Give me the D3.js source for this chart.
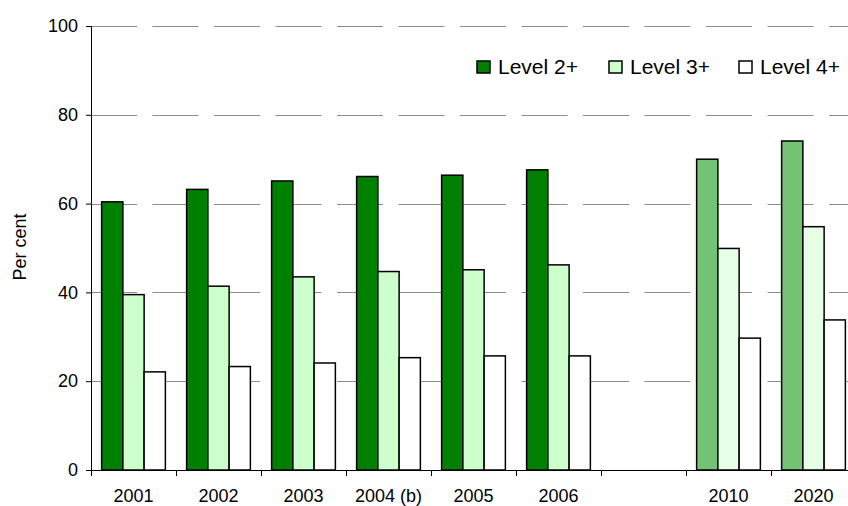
<!DOCTYPE html>
<html>
<head>
<meta charset="utf-8">
<script src="https://cdn.jsdelivr.net/npm/d3@7"></script>
<style>
  html, body { margin: 0; padding: 0; background: #fff; }
  svg { display: block; font-family: "Liberation Sans", Arial, sans-serif; }
</style>
</head>
<body>
<svg id="chart" width="848" height="506"></svg>
<script>
// ---- data ----
const categories = ["2001", "2002", "2003", "2004 (b)", "2005", "2006", "gap", "2010", "2020"];
const categoryLabels = ["2001", "2002", "2003", "2004 (b)", "2005", "2006", "", "2010", "2020"];
const projected = ["2010", "2020"];
const seriesNames = ["Level 2+", "Level 3+", "Level 4+"];
const level2 = [60.4, 63.2, 65.1, 66.1, 66.4, 67.6, null, 70.0, 74.1];
const level3 = [39.5, 41.4, 43.5, 44.7, 45.1, 46.2, null, 49.9, 54.8];
const level4 = [22.1, 23.3, 24.1, 25.3, 25.7, 25.7, null, 29.7, 33.8];
const yTicks = [0, 20, 40, 60, 80, 100];

const seriesValues = [level2, level3, level4];
const fills = ["#008000", "#ccffcc", "#ffffff"];
const projFills = ["#74c274", "#e6ffe6", "#ffffff"];

// ---- layout ----
const svg = d3.select("#chart");
const mLeft = 91, mRight = 856, mTop = 26, mBottom = 470;

const x = d3.scaleBand().domain(categories).range([mLeft, mRight]).paddingInner(0).paddingOuter(0);
const x1 = d3.scaleBand().domain(seriesNames).range([x.bandwidth() * 0.125, x.bandwidth() * 0.875]).padding(0);
const y = d3.scaleLinear().domain([0, 100]).range([mBottom, mTop]);

// gridlines (dashed)
svg.append("g").selectAll("line").data(yTicks.filter(d => d > 0)).join("line")
  .attr("x1", mLeft).attr("x2", 848)
  .attr("y1", d => Math.round(y(d)) + 0.5).attr("y2", d => Math.round(y(d)) + 0.5)
  .attr("stroke", "#8c8c8c").attr("stroke-width", 1)
  .attr("stroke-dasharray", "46,15.5");

// bars
const rows = categories.map((c, i) => ({ c, i }));
const groups = svg.append("g").selectAll("g").data(rows.filter(r => level2[r.i] !== null)).join("g")
  .attr("transform", r => `translate(${x(r.c)},0)`);
groups.selectAll("rect").data(r => seriesNames.map((s, k) => ({
    s, k, v: seriesValues[k][r.i], proj: projected.includes(r.c)
  }))).join("rect")
  .attr("x", d => x1(d.s))
  .attr("y", d => y(d.v))
  .attr("width", x1.bandwidth())
  .attr("height", d => y(0) - y(d.v))
  .attr("fill", d => d.proj ? projFills[d.k] : fills[d.k])
  .attr("stroke", "#000").attr("stroke-width", 1.5);

// y axis
const yAxis = d3.axisLeft(y).tickValues(yTicks).tickSize(5).tickPadding(8);
const yg = svg.append("g").attr("transform", `translate(${mLeft},0)`).call(yAxis);
yg.select(".domain").attr("stroke", "#000").attr("d", `M0.5,${mTop}V${mBottom}`);
yg.selectAll(".tick line").attr("stroke", "#000");
yg.selectAll(".tick text").attr("font-size", 18).attr("fill", "#000")
  .attr("font-family", "'Liberation Sans', Arial, sans-serif");

// x axis
const xg = svg.append("g").attr("transform", `translate(0,${mBottom})`);
xg.append("line").attr("x1", mLeft).attr("x2", 848).attr("y1", 0.5).attr("y2", 0.5).attr("stroke", "#000");
xg.selectAll("line.tk").data(categories).join("line").attr("class", "tk")
  .attr("x1", d => Math.round(x(d)) + 0.5).attr("x2", d => Math.round(x(d)) + 0.5)
  .attr("y1", 0).attr("y2", 6).attr("stroke", "#000");
xg.selectAll("text").data(categories).join("text")
  .attr("x", d => x(d) + x.bandwidth() / 2)
  .attr("y", 32)
  .attr("text-anchor", "middle")
  .attr("font-size", 18)
  .text((d, i) => categoryLabels[i]);

// y label
svg.append("text")
  .attr("transform", "translate(26,247) rotate(-90)")
  .attr("text-anchor", "middle")
  .attr("font-size", 18)
  .text("Per cent");

// legend
const legX = [477, 609, 739];
const leg = svg.append("g").selectAll("g").data(seriesNames).join("g")
  .attr("transform", (d, i) => `translate(${legX[i]},61)`);
leg.append("rect").attr("width", 13).attr("height", 12)
  .attr("fill", (d, i) => fills[i]).attr("stroke", "#000").attr("stroke-width", 1.5);
leg.append("text").attr("x", 21).attr("y", 12.5).attr("font-size", 21).text(d => d);
</script>
</body>
</html>
